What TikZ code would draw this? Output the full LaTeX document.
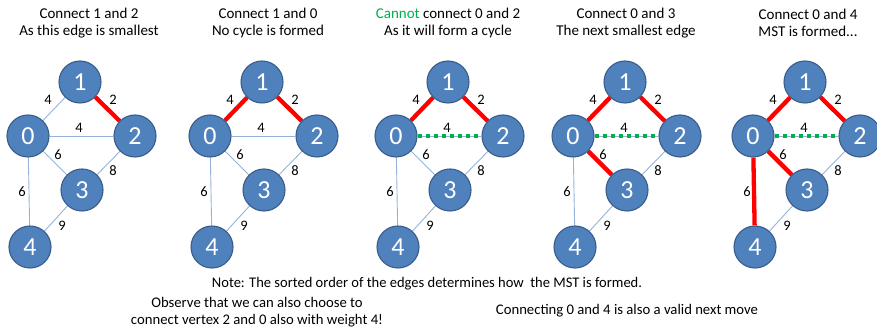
\documentclass[tikz,border=0pt]{standalone}
\usepackage{graphicx}
\usepackage{fontspec}
\setmainfont{Carlito}
\usetikzlibrary{backgrounds}
\definecolor{nodeblue}{HTML}{4F81BD}
\definecolor{nodeedge}{HTML}{385D8A}
\definecolor{thinblue}{HTML}{95B3D7}
\definecolor{mstred}{HTML}{FF0000}
\definecolor{cyclegreen}{HTML}{00B050}
\tikzset{
  vert/.style={circle, fill=nodeblue, draw=nodeedge, line width=1.1pt, minimum size=42pt, inner sep=0pt, text=white, font=\fontsize{26}{26}\selectfont},
  weight/.style={inner sep=0pt, font=\fontsize{14.5}{14.5}\selectfont},
  title/.style={align=center, font=\fontsize{15}{17}\selectfont},
  note/.style={align=center, font=\fontsize{14.7}{17}\selectfont},
  thinedge/.style={draw=thinblue, line width=0.9pt},
  mstedge/.style={draw=mstred, line width=4.3pt},
  cycleedge/.style={draw=cyclegreen, line width=4.3pt, dash pattern=on 4.3pt off 3.7pt},
}
\newcommand\graphpanel[2]{%
  \node[vert] (#2-0) at (#1,136) {0};
  \node[vert] (#2-1) at (#1+52,82) {1};
  \node[vert] (#2-2) at (#1+107,136) {2};
  \node[vert] (#2-3) at (#1+54,190) {3};
  \node[vert] (#2-4) at (#1+2,247) {4};
  \begin{scope}[on background layer]
    \draw[thinedge] (#2-0) -- (#2-1);
    \draw[thinedge] (#2-1) -- (#2-2);
    \draw[thinedge] (#2-0) -- (#2-2);
    \draw[thinedge] (#2-0) -- (#2-3);
    \draw[thinedge] (#2-2) -- (#2-3);
    \draw[thinedge] (#2-0) -- (#2-4);
    \draw[thinedge] (#2-3) -- (#2-4);
  \end{scope}
  \node[weight] (#2-w01) at (#1+20,100) {4};
  \node[weight] (#2-w12) at (#1+85,100) {2};
  \node[weight] (#2-w02) at (#1+51,128) {4};
  \node[weight] (#2-w03) at (#1+30,155) {6};
  \node[weight] (#2-w23) at (#1+85,171) {8};
  \node[weight] (#2-w04) at (#1-6,192) {6};
  \node[weight] (#2-w34) at (#1+34,226) {9};
}
\begin{document}
\begin{tikzpicture}[x=1pt,y=-1pt]
\useasboundingbox (0,0) rectangle (877,328);

\graphpanel{28}{a}
\graphpanel{210}{b}
\graphpanel{396}{c}
\graphpanel{573}{d}
\graphpanel{753}{e}

\begin{scope}[on background layer]
  \draw[mstedge] (a-1) -- (a-2);

  \draw[mstedge] (b-1) -- (b-2);
  \draw[mstedge] (b-0) -- (b-1);

  \draw[mstedge] (c-1) -- (c-2);
  \draw[mstedge] (c-0) -- (c-1);
  \draw[cycleedge] (c-0) -- (c-2);

  \draw[mstedge] (d-1) -- (d-2);
  \draw[mstedge] (d-0) -- (d-1);
  \draw[mstedge] (d-0) -- (d-3);
  \draw[cycleedge] (d-0) -- (d-2);

  \draw[mstedge] (e-1) -- (e-2);
  \draw[mstedge] (e-0) -- (e-1);
  \draw[mstedge] (e-0) -- (e-3);
  \draw[mstedge] (e-0) -- (e-4);
  \draw[cycleedge] (e-0) -- (e-2);
\end{scope}

\node[title] (t1) at (89,23) {Connect 1 and 2\\As this edge is smallest};
\node[title] (t2) at (268,23) {Connect 1 and 0\\No cycle is formed};
\node[title] (t3) at (448,23) {\textcolor{cyclegreen}{Cannot} connect 0 and 2\\As it will form a cycle};
\node[title] (t4) at (626,23) {Connect 0 and 3\\The next smallest edge};
\node[title] (t5) at (808,23) {Connect 0 and 4\\MST is formed...};

\node[note, inner sep=0pt] (n1) at (427,284) {\resizebox{430pt}{\height}{Note: The sorted order of the edges determines how\ \ the MST is formed.}};
\node[note] (n2) at (257,312) {Observe that we can also choose to\\connect vertex 2 and 0 also with weight 4!};
\node[note] (n3) at (627,311) {Connecting 0 and 4 is also a valid next move};
\end{tikzpicture}
\end{document}
